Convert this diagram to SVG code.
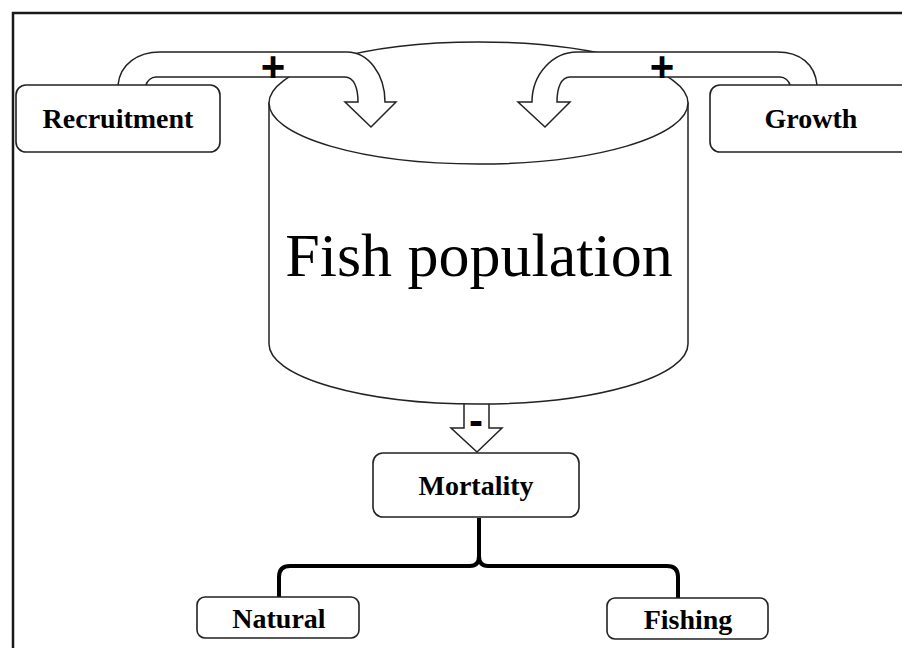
<svg xmlns="http://www.w3.org/2000/svg" width="902" height="648" viewBox="0 0 902 648">
<style>
.frame{fill:none;stroke:#1a1a1a;stroke-width:2.5}
.box{fill:#fff;stroke:#222;stroke-width:1.6}
.line{fill:#fff;stroke:#222;stroke-width:1.5;stroke-linejoin:miter}
.bracket{fill:none;stroke:#000;stroke-width:4;stroke-linejoin:round}
.lbl{font-family:"Liberation Serif","Times New Roman",serif;font-weight:bold;font-size:28px;fill:#000;text-anchor:middle}
.big{font-family:"Liberation Serif","Times New Roman",serif;font-size:62px;fill:#000;text-anchor:middle}
.sign{font-family:"Liberation Sans",Arial,sans-serif;font-weight:bold;font-size:42px;fill:#000;text-anchor:middle}
</style>
<rect width="902" height="648" fill="#fff"/>
<rect class="frame" x="13" y="13" width="960" height="700"/>
<g id="connectors">
  <path id="arrow-mortality" class="line" d="M464 395 L464 428 L451 428 L477 452 L502 428 L489 428 L489 395"/>
</g>
<g id="fish-population">
  <path class="line" d="M269 103 L269 344 A209.5 60 0 0 0 688 344 L688 103 Z"/>
  <ellipse class="line" cx="478.5" cy="103" rx="209.5" ry="61"/>
  <text class="big" x="479" y="276">Fish population</text>
</g>
<g id="flows">
  <path id="arrow-recruitment" class="line" d="M118 85 C120 64 138 52 160 52 L347 52 C368 52 385 74 385 102 L396 102 L371 127 L345 102 L358 102 C358 88 354 77 345 77 L156 77 C151 77 147 81 146 85"/>
  <path id="arrow-growth" class="line" d="M817 85 C815 64 800 52 777 52 L577 52 C553 52 532 74 532 102 L518 102 L545 127 L570 102 L557 102 C557 88 561 77 570 77 L780 77 C785 77 789 81 790 85"/>
  <text class="sign" x="273" y="81">+</text>
  <text class="sign" x="662" y="81">+</text>
  <text class="sign" x="476" y="435">-</text>
  <path id="bracket" class="bracket" d="M479 518 L479 556 Q479 566 470 566 L290 566 Q279 566 279 577 L279 597 M479 556 Q479 566 488 566 L667 566 Q678 566 678 577 L678 598"/>
</g>
<g id="recruitment">
  <rect class="box" x="16" y="85" width="204" height="67" rx="10"/>
  <text class="lbl" x="118" y="128">Recruitment</text>
</g>
<g id="growth">
  <rect class="box" x="710" y="85" width="204" height="67" rx="10"/>
  <text class="lbl" x="811" y="128">Growth</text>
</g>
<g id="mortality">
  <rect class="box" x="373" y="453" width="206" height="64" rx="10"/>
  <text class="lbl" x="476" y="495">Mortality</text>
</g>
<g id="natural">
  <rect class="box" x="197" y="597" width="162" height="41" rx="8"/>
  <text class="lbl" x="279" y="628">Natural</text>
</g>
<g id="fishing">
  <rect class="box" x="607" y="598" width="161" height="41" rx="8"/>
  <text class="lbl" x="688" y="629">Fishing</text>
</g>
</svg>
